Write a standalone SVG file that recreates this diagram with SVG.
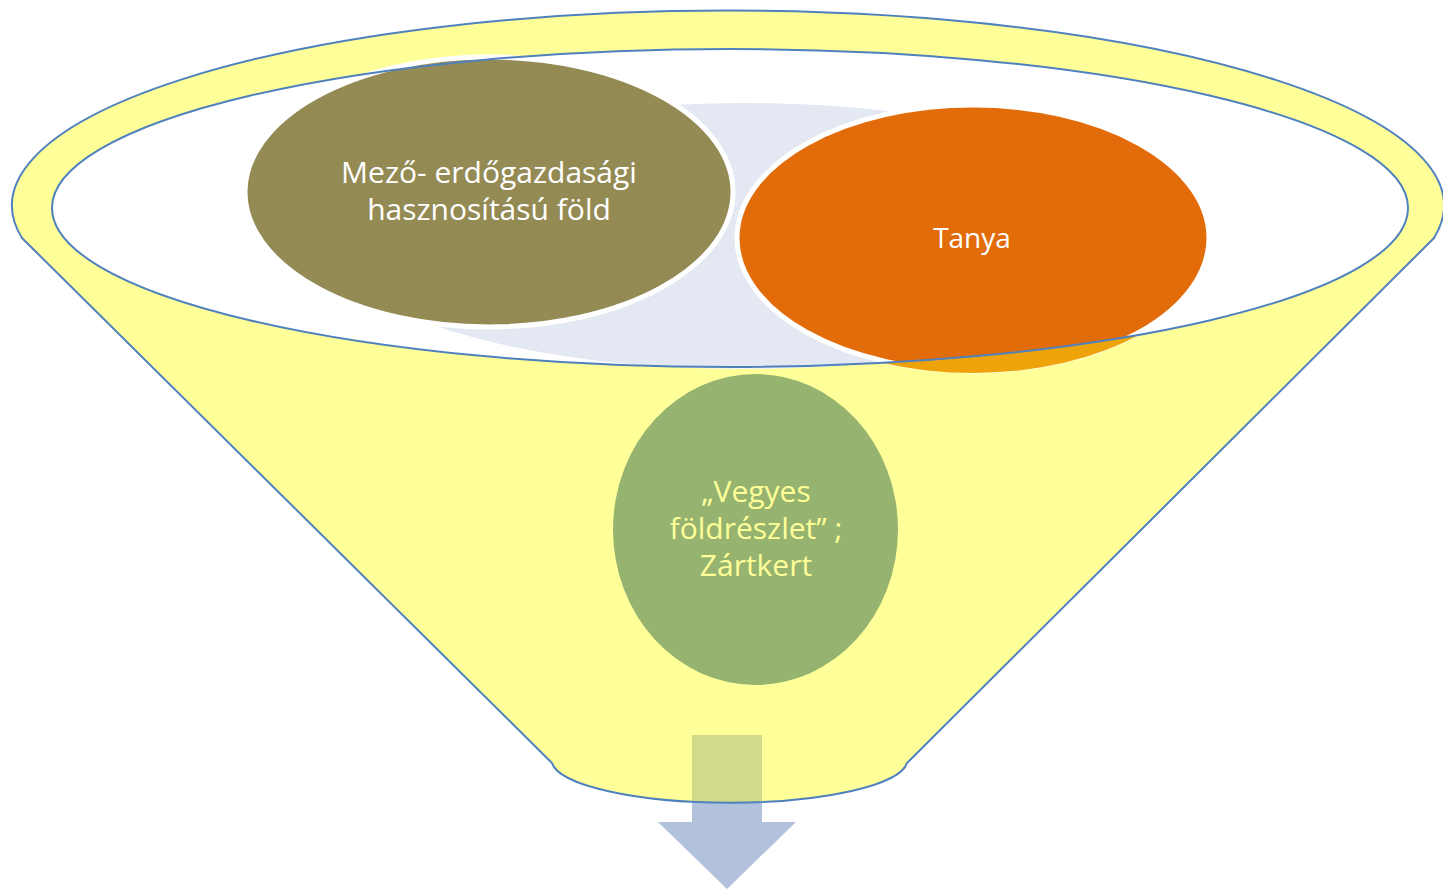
<svg xmlns="http://www.w3.org/2000/svg" width="1443" height="889" viewBox="0 0 1443 889">
  <style>
    .label { font-family: "Open Sans", "Liberation Sans", sans-serif; font-size: 30px; text-anchor: middle; }
    .small { font-size: 28px; }
    .white { fill: #FFFFFF; }
    .cream { fill: #FFFF99; }
    .rim { fill: none; stroke: #4F81BD; stroke-width: 2; }
  </style>
  <defs>
    <!-- funnel outline: outer rim ellipse, cone sides and rounded spout -->
    <path id="funnelShape" d="M22,238 A716,195 0 1,1 1434,238 L907,763 A178,43 0 0,1 552,763 Z"/>
    <!-- everything outside the mouth (inner ellipse) -->
    <clipPath id="outsideMouth">
      <path clip-rule="evenodd" d="M0,0 H1443 V889 H0 Z M52,208 A678,159 0 1,0 1408,208 A678,159 0 1,0 52,208 Z"/>
    </clipPath>
    <clipPath id="insideFunnel">
      <use href="#funnelShape"/>
    </clipPath>
  </defs>

  <rect width="1443" height="889" fill="#FFFFFF"/>

  <!-- funnel body -->
  <g id="funnel">
    <use href="#funnelShape" fill="#FFFF99"/>
  </g>

  <!-- downward output arrow -->
  <g id="connectors">
    <path id="arrow" d="M692,735 H762 V822 H796 L727,889 L658,822 H692 Z" fill="#B2C1DC"/>
    <rect x="692" y="735" width="70" height="80" fill="#D1D98A" clip-path="url(#insideFunnel)"/>
  </g>

  <use href="#funnelShape" class="rim"/>

  <!-- funnel mouth -->
  <g id="mouth">
    <ellipse cx="730" cy="208" rx="678" ry="159" fill="#FFFFFF"/>
  </g>

  <!-- swirl backdrop inside the mouth -->
  <g id="backdrop">
    <ellipse cx="745" cy="236" rx="420" ry="133" fill="#E3E8F2"/>
    <ellipse cx="745" cy="236" rx="420" ry="133" fill="#FFFFFF" opacity="0.55" clip-path="url(#outsideMouth)"/>
  </g>

  <g id="node-mezo">
    <ellipse cx="489" cy="192" rx="244" ry="135" fill="#948A54" stroke="#FFFFFF" stroke-width="5"/>
    <text class="label white" x="489" y="183">Mező- erdőgazdasági</text>
    <text class="label white" x="489" y="220">hasznosítású föld</text>
  </g>

  <g id="node-tanya">
    <ellipse cx="973" cy="238" rx="236" ry="133" fill="#E36C0A" stroke="#FFFFFF" stroke-width="5"/>
    <ellipse cx="973" cy="238" rx="238" ry="135" fill="#EFA30A" clip-path="url(#outsideMouth)"/>
    <text class="label small white" x="972" y="248">Tanya</text>
  </g>

  <!-- front lip of the mouth -->
  <ellipse cx="730" cy="208" rx="678" ry="159" class="rim"/>

  <g id="node-vegyes">
    <ellipse cx="755.5" cy="529.5" rx="142.5" ry="155.5" fill="#96B46F"/>
    <text class="label cream" x="756" y="502">„Vegyes</text>
    <text class="label cream" x="756" y="539">földrészlet” ;</text>
    <text class="label cream" x="756" y="576">Zártkert</text>
  </g>
</svg>
